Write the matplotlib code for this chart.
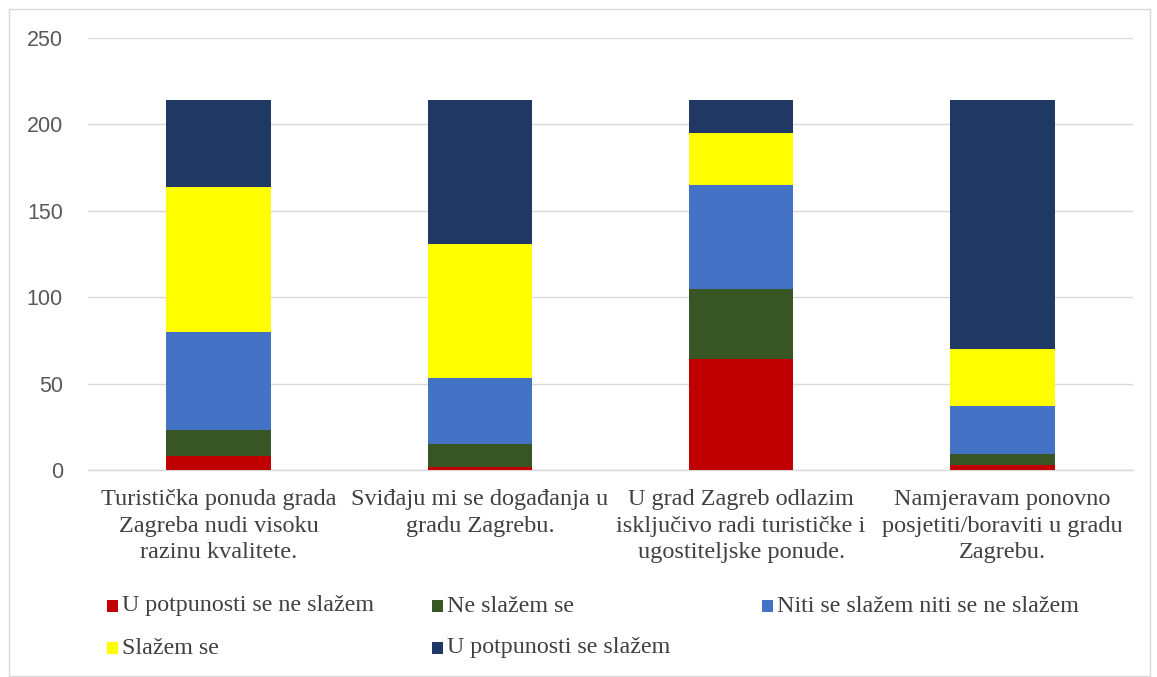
import matplotlib
matplotlib.use("Agg")
import matplotlib.pyplot as plt
from matplotlib.patches import Rectangle
import numpy as np

categories = [
    "Turistička ponuda grada\nZagreba nudi visoku\nrazinu kvalitete.",
    "Sviđaju mi se događanja u\ngradu Zagrebu.",
    "U grad Zagreb odlazim\nisključivo radi turističke i\nugostiteljske ponude.",
    "Namjeravam ponovno\nposjetiti/boraviti u gradu\nZagrebu.",
]
series_names = [
    "U potpunosti se ne slažem",
    "Ne slažem se",
    "Niti se slažem niti se ne slažem",
    "Slažem se",
    "U potpunosti se slažem",
]
u_potpunosti_ne = [8, 2, 64, 3]
ne_slazem = [15, 13, 41, 6]
niti_niti = [57, 38, 60, 28]
slazem = [84, 78, 30, 33]
u_potpunosti_da = [50, 83, 19, 144]
series_values = [u_potpunosti_ne, ne_slazem, niti_niti, slazem, u_potpunosti_da]
colors = ["#C00000", "#375623", "#4472C4", "#FFFF00", "#203864"]
yticks = [0, 50, 100, 150, 200, 250]

fig = plt.figure(figsize=(11.57, 6.77), dpi=100)
ax = fig.add_axes([88 / 1157, 1 - 470 / 677, (1133 - 88) / 1157, (470 - 38) / 677])

x = np.arange(len(categories))
bottom = np.zeros(len(categories))
for name, vals, c in zip(series_names, series_values, colors):
    ax.bar(x, vals, 0.4, bottom=bottom, color=c, edgecolor="none", zorder=3, label=name)
    bottom += np.array(vals)

ax.set_xlim(-0.5, len(categories) - 0.5)
ax.set_ylim(0, 250)
ax.set_yticks(yticks)
ax.set_yticklabels([str(t) for t in yticks], fontsize=15.5, color="#595959", family="Liberation Sans")
ax.yaxis.grid(True, color="#D9D9D9", linewidth=1.0, zorder=0)
ax.tick_params(axis="y", length=0, pad=18)
ax.tick_params(axis="x", length=0, pad=14)
ax.set_xticks(x)
ax.set_xticklabels(categories, fontsize=17.5, color="#404040", family="Liberation Serif", linespacing=1.32)
for s in ["top", "right", "left"]:
    ax.spines[s].set_visible(False)
ax.spines["bottom"].set_color("#D9D9D9")
ax.spines["bottom"].set_linewidth(1.0)

# legend entries placed in Excel-like grid
legend_pos = [(107, 606), (432, 606), (762, 606), (107, 648), (432, 648)]
for (px, py), name, c in zip(legend_pos, series_names, colors):
    fig.patches.append(Rectangle((px / 1157, 1 - (py + 6) / 677), 11 / 1157, 12 / 677,
                                 transform=fig.transFigure, facecolor=c, edgecolor="none"))
    fig.text((px + 15) / 1157, 1 - py / 677, name, fontsize=17.3, color="#404040",
             family="Liberation Serif", va="center", ha="left")

# outer border
fig.patches.append(Rectangle((9 / 1157, 1 / 677), 1141 / 1157, 667 / 677, transform=fig.transFigure,
                             facecolor="none", edgecolor="#D9D9D9", linewidth=1.0))

fig.savefig("out.png", dpi=100)
